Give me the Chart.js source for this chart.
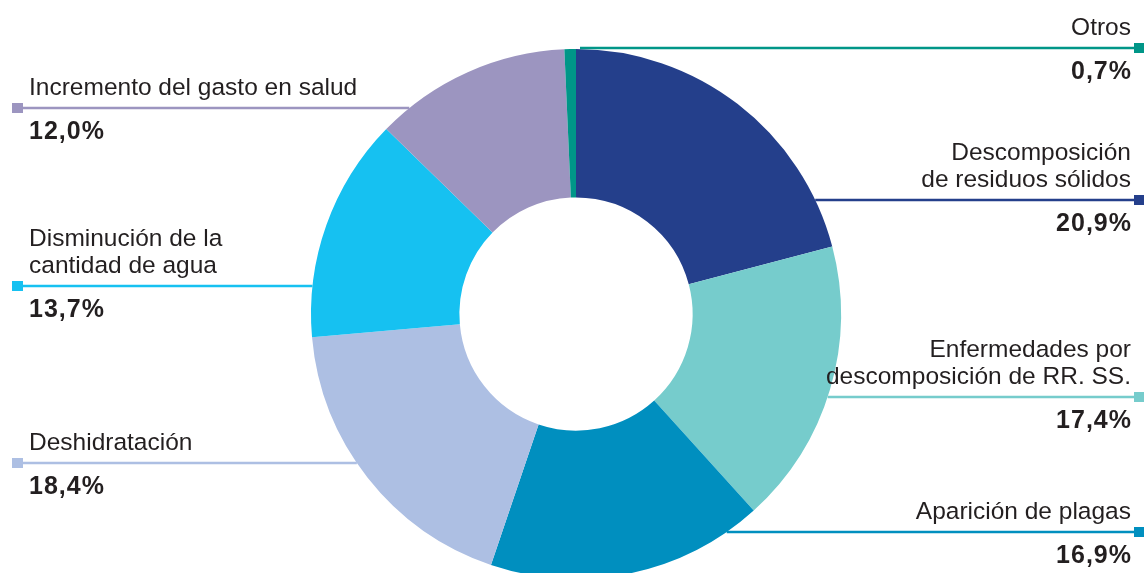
<!DOCTYPE html>
<html>
<head>
<meta charset="utf-8">
<script src="https://cdn.jsdelivr.net/npm/chart.js@4/dist/chart.umd.min.js"></script>
<style>
  html, body { margin: 0; padding: 0; background: #ffffff; overflow: hidden; }
  #wrap { position: absolute; left: 0; top: 0; width: 1144px; height: 600px; }
</style>
</head>
<body>
<div id="wrap"><canvas id="c"></canvas></div>
<script>
// ---- data ----
const categories = [
  ["Descomposición", "de residuos sólidos"],
  ["Enfermedades por", "descomposición de RR. SS."],
  ["Aparición de plagas"],
  ["Deshidratación"],
  ["Disminución de la", "cantidad de agua"],
  ["Incremento del gasto en salud"],
  ["Otros"]
];
const values = [20.9, 17.4, 16.9, 18.4, 13.7, 12.0, 0.7];
const colors = ["#243f8b", "#76cccc", "#008fbf", "#adbfe3", "#16c1f1", "#9c95c0", "#009688"];

// ---- annotation layout (leader line heights and sides) ----
const labelSides = ["right", "right", "right", "left", "left", "left", "right"];
const leaderY = [200, 397, 532, 463, 286, 108, 48];

const fmtPct = v => v.toFixed(1).replace('.', ',') + '%';

const leaderLabels = {
  id: 'leaderLabels',
  afterDatasetsDraw(chart) {
    const ctx = chart.ctx;
    const meta = chart.getDatasetMeta(0);
    const W = chart.width;
    meta.data.forEach((arc, i) => {
      const cx = arc.x, cy = arc.y, R = arc.outerRadius;
      const y = leaderY[i];
      const dy = y - cy;
      const right = labelSides[i] === 'right';
      let xEdge;
      if (Math.abs(dy) < R - 1) {
        const half = Math.sqrt(R * R - dy * dy);
        xEdge = right ? cx + half : cx - half;
      } else {
        // line passes over the top of the ring: attach to the slice's boundary
        const a = right ? arc.endAngle : arc.startAngle;
        xEdge = cx + R * Math.cos(a) + (right ? 4 : -4);
      }
      const xEnd = right ? W : 12;
      ctx.save();
      ctx.strokeStyle = colors[i];
      ctx.lineWidth = 2.6;
      ctx.beginPath();
      ctx.moveTo(xEdge, y);
      ctx.lineTo(xEnd, y);
      ctx.stroke();
      ctx.fillStyle = colors[i];
      if (right) ctx.fillRect(W - 10, y - 5, 10, 10);
      else ctx.fillRect(12, y - 5, 11, 10);

      // text
      const tx = right ? 1131 : 29;
      ctx.textAlign = right ? 'right' : 'left';
      ctx.textBaseline = 'alphabetic';
      ctx.fillStyle = '#231f20';
      ctx.font = '24.5px "Liberation Sans", Arial, sans-serif';
      const lines = categories[i];
      lines.forEach((t, k) => {
        const by = y - 13 - (lines.length - 1 - k) * 27;
        ctx.fillText(t, tx, by);
      });
      ctx.font = 'bold 25px "Liberation Sans", Arial, sans-serif';
      ctx.letterSpacing = '1px';
      ctx.fillText(fmtPct(values[i]), tx + (right ? 1 : 0), y + 31);
      ctx.restore();
    });
  }
};

new Chart(document.getElementById('c'), {
  type: 'doughnut',
  data: {
    labels: categories.map(l => l.join(' ')),
    datasets: [{
      data: values,
      backgroundColor: colors,
      borderWidth: 0,
      hoverOffset: 0
    }]
  },
  options: {
    responsive: true,
    maintainAspectRatio: false,
    animation: false,
    cutout: '44%',
    rotation: 0,
    layout: { padding: { top: 49, bottom: 21, left: 8, right: 0 } },
    plugins: {
      legend: { display: false },
      tooltip: { enabled: false }
    }
  },
  plugins: [leaderLabels]
});
</script>
</body>
</html>
